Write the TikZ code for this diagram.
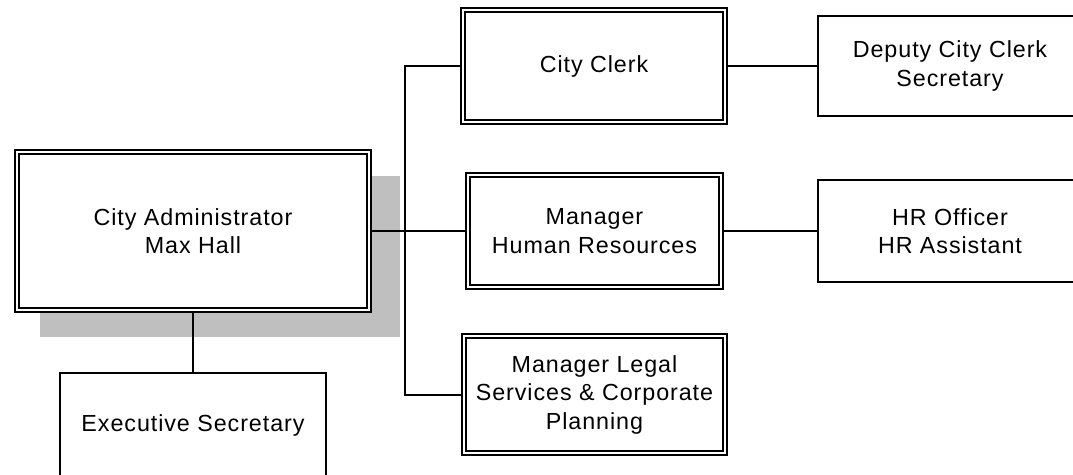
\documentclass[tikz,border=0pt]{standalone}
\usepackage{fontspec}
\setmainfont{Liberation Sans}[LetterSpace=4]
\usetikzlibrary{shadows}
\newcommand{\boxfont}{\fontsize{23.3}{28.5}\selectfont}
\tikzset{
	double box/.style={rectangle, draw, fill=white, line width=2pt, double, double distance=2.4pt, outer sep=3.2pt, inner sep=0pt, align=center, font=\boxfont},
	plain box/.style={rectangle, draw, fill=white, line width=2pt, outer sep=1pt, inner sep=0pt, align=center, font=\boxfont},
	link/.style={line width=2pt},
}

\begin{document}
\begin{tikzpicture}[x=1pt, y=-1pt]

  \useasboundingbox (0,0) rectangle (1073,474);
  \clip (0,0) rectangle (1073,474);

  % head of the office
  \node(admin)[double box, minimum width=351.6, minimum height=157.6,
    drop shadow={shadow xshift=26.5pt, shadow yshift=-24.5pt, shadow scale=1.022, fill=black!25, opacity=1}]
    at (193,231) {City Administrator\\Max Hall};
  \node(exec)[plain box, minimum width=266, minimum height=104] at (193,425) {Executive Secretary};

  % managers
  \node(clerk)[double box, minimum width=261.6, minimum height=111.6] at (594,66) {City Clerk};
  \node(hr)[double box, minimum width=252.6, minimum height=111.6] at (594.5,231) {Manager\\Human Resources};
  \node(legal)[double box, minimum width=260.6, minimum height=116.6] at (594.5,394.5) {Manager Legal\\Services \& Corporate\\Planning};

  % staff
  \node(deputy)[plain box, minimum width=265, minimum height=100] at (950,66) {Deputy City Clerk\\Secretary};
  \node(hrstaff)[plain box, minimum width=265, minimum height=102] at (950,231) {HR Officer\\HR Assistant};

  \coordinate(bus) at (405,231);
  \draw[link] (admin.east) -- (hr.west);
  \draw[link] (clerk.west) -| (bus) |- (legal.west);
  \draw[link] (admin.south) -- (exec.north);
  \draw[link] (clerk.east) -- (deputy.west);
  \draw[link] (hr.east) -- (hrstaff.west);

\end{tikzpicture}
\end{document}
